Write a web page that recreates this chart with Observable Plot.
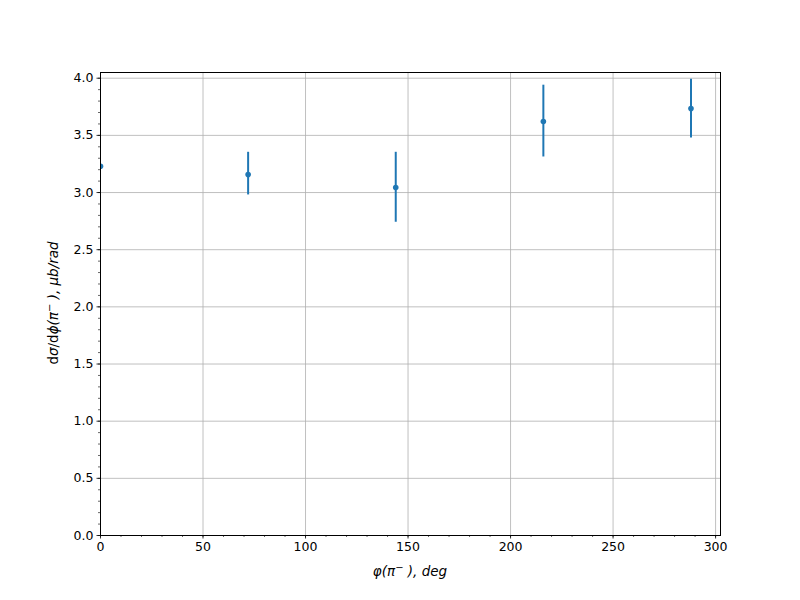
<!DOCTYPE html>
<html>
<head>
<meta charset="utf-8">
<script src="https://cdn.jsdelivr.net/npm/d3@7"></script>
<script src="https://cdn.jsdelivr.net/npm/@observablehq/plot@0.6"></script>
<style>
  html, body { margin: 0; padding: 0; background: #fff; }
  #chart { width: 800px; height: 600px; }
</style>
</head>
<body>
<div id="chart"></div>
<script>
// Data
const phi = [0, 72, 144, 216, 288];
const sigma = [3.23, 3.157, 3.043, 3.621, 3.735];
const errLow = [0, 0.178, 0.303, 0.31, 0.258];
const errHigh = [0, 0.195, 0.309, 0.318, 0.256];

const xTicks = [0, 50, 100, 150, 200, 250, 300];
const yTicks = [0, 0.5, 1.0, 1.5, 2.0, 2.5, 3.0, 3.5, 4.0];
const xMinor = d3.range(0, 301, 10);
const yMinor = d3.range(0, 4.01, 0.1).map(v => +v.toFixed(2));

const data = phi.map((x, i) => ({x, y: sigma[i], lo: sigma[i] - errLow[i], hi: sigma[i] + errHigh[i]}));

const color = "#1f77b4";
const font = "DejaVu Sans, sans-serif";

const plot = Plot.plot({
  width: 800,
  height: 600,
  marginLeft: 100,
  marginRight: 80,
  marginTop: 72,
  marginBottom: 65,
  style: {fontFamily: font, fontSize: "12.5px", color: "#000", background: "#fff"},
  x: {domain: [0, 302.4], label: null},
  y: {domain: [0, 4.05], label: null},
  marks: [
    Plot.gridX(xTicks, {stroke: "#b0b0b0", strokeOpacity: 1, strokeWidth: 0.8}),
    Plot.gridY(yTicks, {stroke: "#b0b0b0", strokeOpacity: 1, strokeWidth: 0.8}),
    Plot.axisX(xMinor, {tickSize: 2, text: null, stroke: "#000", strokeWidth: 0.6}),
    Plot.axisY(yMinor, {tickSize: 2, text: null, stroke: "#000", strokeWidth: 0.6}),
    Plot.axisX(xTicks, {tickSize: 3.5, tickPadding: 3.5, stroke: "#000", strokeWidth: 0.8, tickFormat: d => String(d), fill: "#000"}),
    Plot.axisY(yTicks, {tickSize: 3.5, tickPadding: 3.5, stroke: "#000", strokeWidth: 0.8, tickFormat: d => d.toFixed(1), fill: "#000"}),
    Plot.ruleX(data.filter(d => d.hi > d.lo), {x: "x", y1: "lo", y2: "hi", stroke: color, strokeWidth: 2, clip: true}),
    Plot.dot(data, {x: "x", y: "y", r: 2.8, fill: color, stroke: null, clip: true}),
    Plot.frame({stroke: "#000", strokeWidth: 1})
  ]
});

document.getElementById("chart").appendChild(plot);

// Axis labels with mathtext-like styling
const svg = d3.select(plot);
const xl = svg.append("text")
  .attr("x", 410).attr("y", 576)
  .attr("text-anchor", "middle")
  .attr("font-family", font).attr("font-size", 13.5);
xl.append("tspan").attr("font-style", "italic").text("φ(π");
xl.append("tspan").attr("font-style", "italic").attr("dy", -5).attr("font-size", 10).text("−");
xl.append("tspan").attr("font-style", "italic").attr("dy", 5).text(" ), ");
xl.append("tspan").attr("font-style", "italic").text("deg");

const yl = svg.append("text")
  .attr("transform", "translate(58,303) rotate(-90)")
  .attr("text-anchor", "middle")
  .attr("font-family", font).attr("font-size", 13.5);
yl.append("tspan").text("d");
yl.append("tspan").attr("font-style", "italic").text("σ");
yl.append("tspan").text("/d");
yl.append("tspan").attr("font-style", "italic").text("ϕ(π");
yl.append("tspan").attr("font-style", "italic").attr("dy", -5).attr("font-size", 10).text("−");
yl.append("tspan").attr("font-style", "italic").attr("dy", 5).text(" ), μb/rad");
</script>
</body>
</html>
